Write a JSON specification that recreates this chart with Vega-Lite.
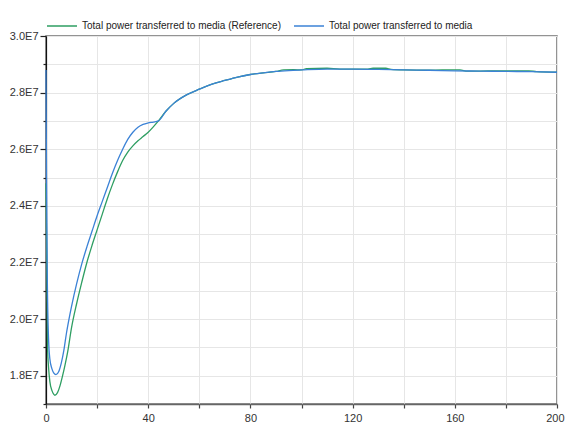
{
  "$schema": "https://vega.github.io/schema/vega-lite/v6.json",
  "width": 511,
  "height": 368,
  "autosize": {"type": "none"},
  "padding": {"left": 46, "top": 36, "right": 8, "bottom": 19},
  "background": "white",
  "config": {
    "view": {"stroke": "#707070", "strokeWidth": 1.5},
    "font": "Liberation Sans"
  },
  "datasets": {
    "ref": [
      {"t": 0, "v": 24800000}, {"t": 0.3, "v": 22000000}, {"t": 0.6, "v": 19000000}, {"t": 1, "v": 18300000},
      {"t": 1.5, "v": 17800000}, {"t": 2.3, "v": 17480000}, {"t": 3, "v": 17350000}, {"t": 3.5, "v": 17310000},
      {"t": 4.5, "v": 17400000}, {"t": 5.5, "v": 17650000}, {"t": 6.5, "v": 18000000}, {"t": 7.5, "v": 18400000},
      {"t": 8.5, "v": 18850000}, {"t": 10, "v": 19700000}, {"t": 12, "v": 20550000}, {"t": 14, "v": 21300000},
      {"t": 16, "v": 22000000}, {"t": 18, "v": 22600000}, {"t": 20, "v": 23150000}, {"t": 22, "v": 23700000},
      {"t": 24, "v": 24250000}, {"t": 26, "v": 24750000}, {"t": 28, "v": 25200000}, {"t": 30, "v": 25600000},
      {"t": 32, "v": 25900000}, {"t": 34, "v": 26120000}, {"t": 36, "v": 26300000}, {"t": 38, "v": 26450000},
      {"t": 40, "v": 26600000}, {"t": 42, "v": 26790000}, {"t": 44, "v": 27000000},
      {"t": 47, "v": 27350000}, {"t": 50, "v": 27620000}, {"t": 55, "v": 27920000}, {"t": 60, "v": 28120000},
      {"t": 65, "v": 28300000}, {"t": 70, "v": 28430000}, {"t": 75, "v": 28550000}, {"t": 80, "v": 28640000},
      {"t": 85, "v": 28700000}, {"t": 90, "v": 28750000}, {"t": 93, "v": 28800000},
      {"t": 97, "v": 28810000}, {"t": 100, "v": 28800000}, {"t": 102, "v": 28850000}, {"t": 110, "v": 28860000},
      {"t": 115, "v": 28830000}, {"t": 120, "v": 28830000}, {"t": 126, "v": 28830000}, {"t": 128, "v": 28860000},
      {"t": 133, "v": 28860000}, {"t": 135, "v": 28820000}, {"t": 140, "v": 28800000}, {"t": 150, "v": 28790000},
      {"t": 155, "v": 28800000}, {"t": 162, "v": 28800000}, {"t": 165, "v": 28760000}, {"t": 170, "v": 28760000},
      {"t": 176, "v": 28770000}, {"t": 189, "v": 28770000}, {"t": 192, "v": 28740000}, {"t": 200, "v": 28720000}
    ],
    "sim": [
      {"t": 0, "v": 28800000}, {"t": 0.2, "v": 25000000}, {"t": 0.5, "v": 21500000}, {"t": 1, "v": 19300000},
      {"t": 1.5, "v": 18600000}, {"t": 2.3, "v": 18250000}, {"t": 3, "v": 18100000}, {"t": 3.9, "v": 18040000},
      {"t": 5, "v": 18150000}, {"t": 6, "v": 18450000}, {"t": 7, "v": 18900000}, {"t": 8, "v": 19500000},
      {"t": 9, "v": 20000000}, {"t": 10, "v": 20450000}, {"t": 12, "v": 21250000}, {"t": 14, "v": 21950000},
      {"t": 16, "v": 22550000}, {"t": 18, "v": 23100000}, {"t": 20, "v": 23650000}, {"t": 22, "v": 24150000},
      {"t": 24, "v": 24650000}, {"t": 26, "v": 25150000}, {"t": 28, "v": 25600000}, {"t": 30, "v": 26000000},
      {"t": 32, "v": 26350000}, {"t": 34, "v": 26600000}, {"t": 36, "v": 26780000}, {"t": 38, "v": 26880000},
      {"t": 40, "v": 26930000}, {"t": 42, "v": 26960000}, {"t": 44, "v": 27000000},
      {"t": 47, "v": 27350000}, {"t": 50, "v": 27620000}, {"t": 55, "v": 27920000}, {"t": 60, "v": 28120000},
      {"t": 65, "v": 28300000}, {"t": 70, "v": 28430000}, {"t": 75, "v": 28550000}, {"t": 80, "v": 28640000},
      {"t": 85, "v": 28700000}, {"t": 90, "v": 28750000},
      {"t": 95, "v": 28780000}, {"t": 100, "v": 28800000}, {"t": 110, "v": 28830000}, {"t": 120, "v": 28830000},
      {"t": 130, "v": 28820000}, {"t": 140, "v": 28800000}, {"t": 150, "v": 28790000}, {"t": 160, "v": 28770000},
      {"t": 170, "v": 28760000}, {"t": 180, "v": 28750000}, {"t": 190, "v": 28740000}, {"t": 200, "v": 28720000}
    ]
  },
  "encoding": {
    "x": {
      "field": "t", "type": "quantitative",
      "scale": {"domain": [0, 200], "nice": false, "zero": false},
      "axis": {
        "title": null,
        "values": [0, 20, 40, 60, 80, 100, 120, 140, 160, 180, 200],
        "labelExpr": "datum.value % 40 == 0 ? datum.label : ''",
        "labelAlign": {"condition": {"test": "datum.value == 200", "value": "right"}, "value": "center"},
        "labelOffset": {"condition": {"test": "datum.value == 200", "value": 7}, "value": 0},
        "labelFont": "Liberation Sans", "labelFontSize": 11, "labelColor": "#333333",
        "labelPadding": 4, "labelFlush": false,
        "tickSize": 4, "tickColor": "#444444", "tickWidth": 1.2,
        "domainColor": "#666666", "domainWidth": 1.5,
        "grid": true, "gridColor": "#e6e6e6", "gridWidth": 1
      }
    },
    "y": {
      "field": "v", "type": "quantitative",
      "scale": {"domain": [17000000, 30000000], "nice": false, "zero": false},
      "axis": {
        "title": null,
        "values": [17000000, 18000000, 19000000, 20000000, 21000000, 22000000, 23000000, 24000000, 25000000, 26000000, 27000000, 28000000, 29000000, 30000000],
        "labelExpr": "round(datum.value / 1000000) % 2 == 0 ? format(datum.value / 10000000, '.1f') + 'E7' : ''",
        "labelFont": "Liberation Sans", "labelFontSize": 11, "labelColor": "#333333",
        "labelPadding": 2,
        "tickSize": {"condition": {"test": "round(datum.value / 1000000) % 2 == 0", "value": 6}, "value": 3},
        "tickColor": "#222222", "tickWidth": 1.2,
        "domainColor": "#111111", "domainWidth": 1.2,
        "grid": true, "gridColor": "#e6e6e6", "gridWidth": 1
      }
    },
    "color": {
      "field": "s", "type": "nominal",
      "scale": {
        "domain": ["Total power transferred to media (Reference)", "Total power transferred to media"],
        "range": ["#2e9e62", "#3b82d6"]
      },
      "legend": {
        "title": null, "orient": "none", "direction": "horizontal",
        "legendX": 0, "legendY": -26,
        "symbolType": "stroke", "symbolSize": 900, "symbolStrokeWidth": 1.5,
        "labelFont": "Liberation Sans", "labelFontSize": 10, "labelColor": "#222222",
        "labelLimit": 400, "labelOffset": 4, "columnPadding": 10
      }
    }
  },
  "layer": [
    {
      "data": {"name": "ref"},
      "transform": [{"calculate": "'Total power transferred to media (Reference)'", "as": "s"}],
      "mark": {"type": "line", "strokeWidth": 1.3, "interpolate": "monotone"}
    },
    {
      "data": {"name": "sim"},
      "transform": [{"calculate": "'Total power transferred to media'", "as": "s"}],
      "mark": {"type": "line", "strokeWidth": 1.3, "interpolate": "monotone"}
    }
  ]
}
